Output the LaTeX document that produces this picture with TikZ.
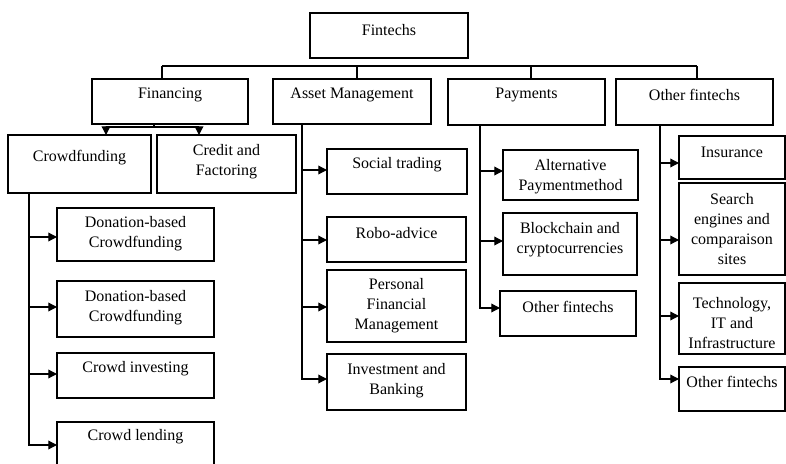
\documentclass[tikz,border=0pt]{standalone}
\usepackage{fontspec}
\setmainfont{Liberation Serif}
\usetikzlibrary{arrows.meta}

% box with its text: name, x1, y1, x2, y2, text centre y, text
\newcommand\tbox[7]{%
  \node[box, minimum width={(#4-#2)*0.75pt}, minimum height={(#5-#3)*0.75pt}] (#1) at (#2,#3) {};
  \node[txt] (#1-t) at ({(#2+#4)/2},#6) {#7};
}

\begin{document}
\begin{tikzpicture}[x=0.75pt, y=-0.75pt,
  box/.style={draw, line width=1.15pt, anchor=north west, inner sep=0pt, outer sep=0pt},
  txt/.style={align=center, inner sep=0pt, font=\fontsize{12}{15}\selectfont},
  ln/.style={line width=0.95pt},
  arr/.style={line width=0.95pt, -{Triangle[length=6.5pt, width=6.5pt]}}]
\useasboundingbox (0,0) rectangle (786,464);
\clip (0,0) rectangle (786,464);

% root and first level
\tbox{root}{310}{13}{468}{58}{30}{Fintechs}
\tbox{fin}{92}{79}{248}{124}{95}{Financing}
\tbox{asset}{273}{79}{431}{124}{95}{Asset Management}
\tbox{pay}{448}{79}{605}{125}{95}{Payments}
\tbox{oth}{616}{79}{773}{125}{95}{Other fintechs}

% financing
\tbox{crowd}{8}{135}{151}{193}{158}{Crowdfunding}
\tbox{credit}{157}{135}{296}{193}{162}{Credit and\\Factoring}

% crowdfunding
\tbox{cf1}{57}{208}{214}{261}{234}{Donation-based\\Crowdfunding}
\tbox{cf2}{57}{281}{214}{337}{308}{Donation-based\\Crowdfunding}
\tbox{cf3}{57}{353}{214}{398}{369}{Crowd investing}
\tbox{cf4}{57}{422}{214}{476}{437}{Crowd lending}

% asset management
\tbox{am1}{327}{149}{467}{194}{165}{Social trading}
\tbox{am2}{327}{217}{466}{262}{233}{Robo-advice}
\tbox{am3}{327}{270}{466}{342}{306}{Personal\\Financial\\Management}
\tbox{am4}{327}{354}{466}{410}{381}{Investment and\\Banking}

% payments
\tbox{py1}{503}{150}{638}{200}{177}{Alternative\\Paymentmethod}
\tbox{py2}{503}{213}{637}{275}{240}{Blockchain and\\cryptocurrencies}
\tbox{py3}{500}{291}{636}{336}{307}{Other fintechs}

% other fintechs
\tbox{ot1}{679}{136}{785}{179}{152}{Insurance}
\tbox{ot2}{679}{183}{785}{275}{229.5}{Search\\engines and\\comparaison\\sites}
\tbox{ot3}{679}{283}{785}{354}{323}{Technology,\\IT and\\Infrastructure}
\tbox{ot4}{679}{367}{785}{411}{382}{Other fintechs}

% top bus
\coordinate (busL) at (162,66);
\coordinate (busR) at (697,66);
\draw[ln] (busL) -- (busR);
\draw[ln] (busL) -- (fin.north -| busL);
\draw[ln] (asset.north -| 357,0) -- (357,66);
\draw[ln] (pay.north -| 531,0) -- (531,66);
\draw[ln] (busR) -- (oth.north -| busR);

% financing split
\coordinate (finj) at (154,127);
\draw[ln] (fin.south -| finj) -- (finj);
\draw[arr] (finj) -| (crowd.north -| 106,0);
\draw[arr] (finj) -| (credit.north -| 199,0);

% crowdfunding trunk
\coordinate (cft) at (crowd.south -| 29,0);
\draw[arr] (cft) |- (cf1.west |- 0,237);
\draw[arr] (cft) |- (cf2.west |- 0,307);
\draw[arr] (cft) |- (cf3.west |- 0,374);
\draw[arr] (cft) |- (cf4.west |- 0,445);

% asset management trunk
\coordinate (amt) at (asset.south -| 302,0);
\draw[arr] (amt) |- (am1.west |- 0,170);
\draw[arr] (amt) |- (am2.west |- 0,240);
\draw[arr] (amt) |- (am3.west |- 0,307);
\draw[arr] (amt) |- (am4.west |- 0,379);

% payments trunk
\coordinate (pyt) at (pay.south -| 480,0);
\draw[arr] (pyt) |- (py1.west |- 0,171);
\draw[arr] (pyt) |- (py2.west |- 0,241);
\draw[arr] (pyt) |- (py3.west |- 0,308);

% other fintechs trunk
\coordinate (ott) at (oth.south -| 660,0);
\draw[arr] (ott) |- (ot1.west |- 0,163);
\draw[arr] (ott) |- (ot2.west |- 0,240);
\draw[arr] (ott) |- (ot3.west |- 0,316);
\draw[arr] (ott) |- (ot4.west |- 0,379);
\end{tikzpicture}
\end{document}
